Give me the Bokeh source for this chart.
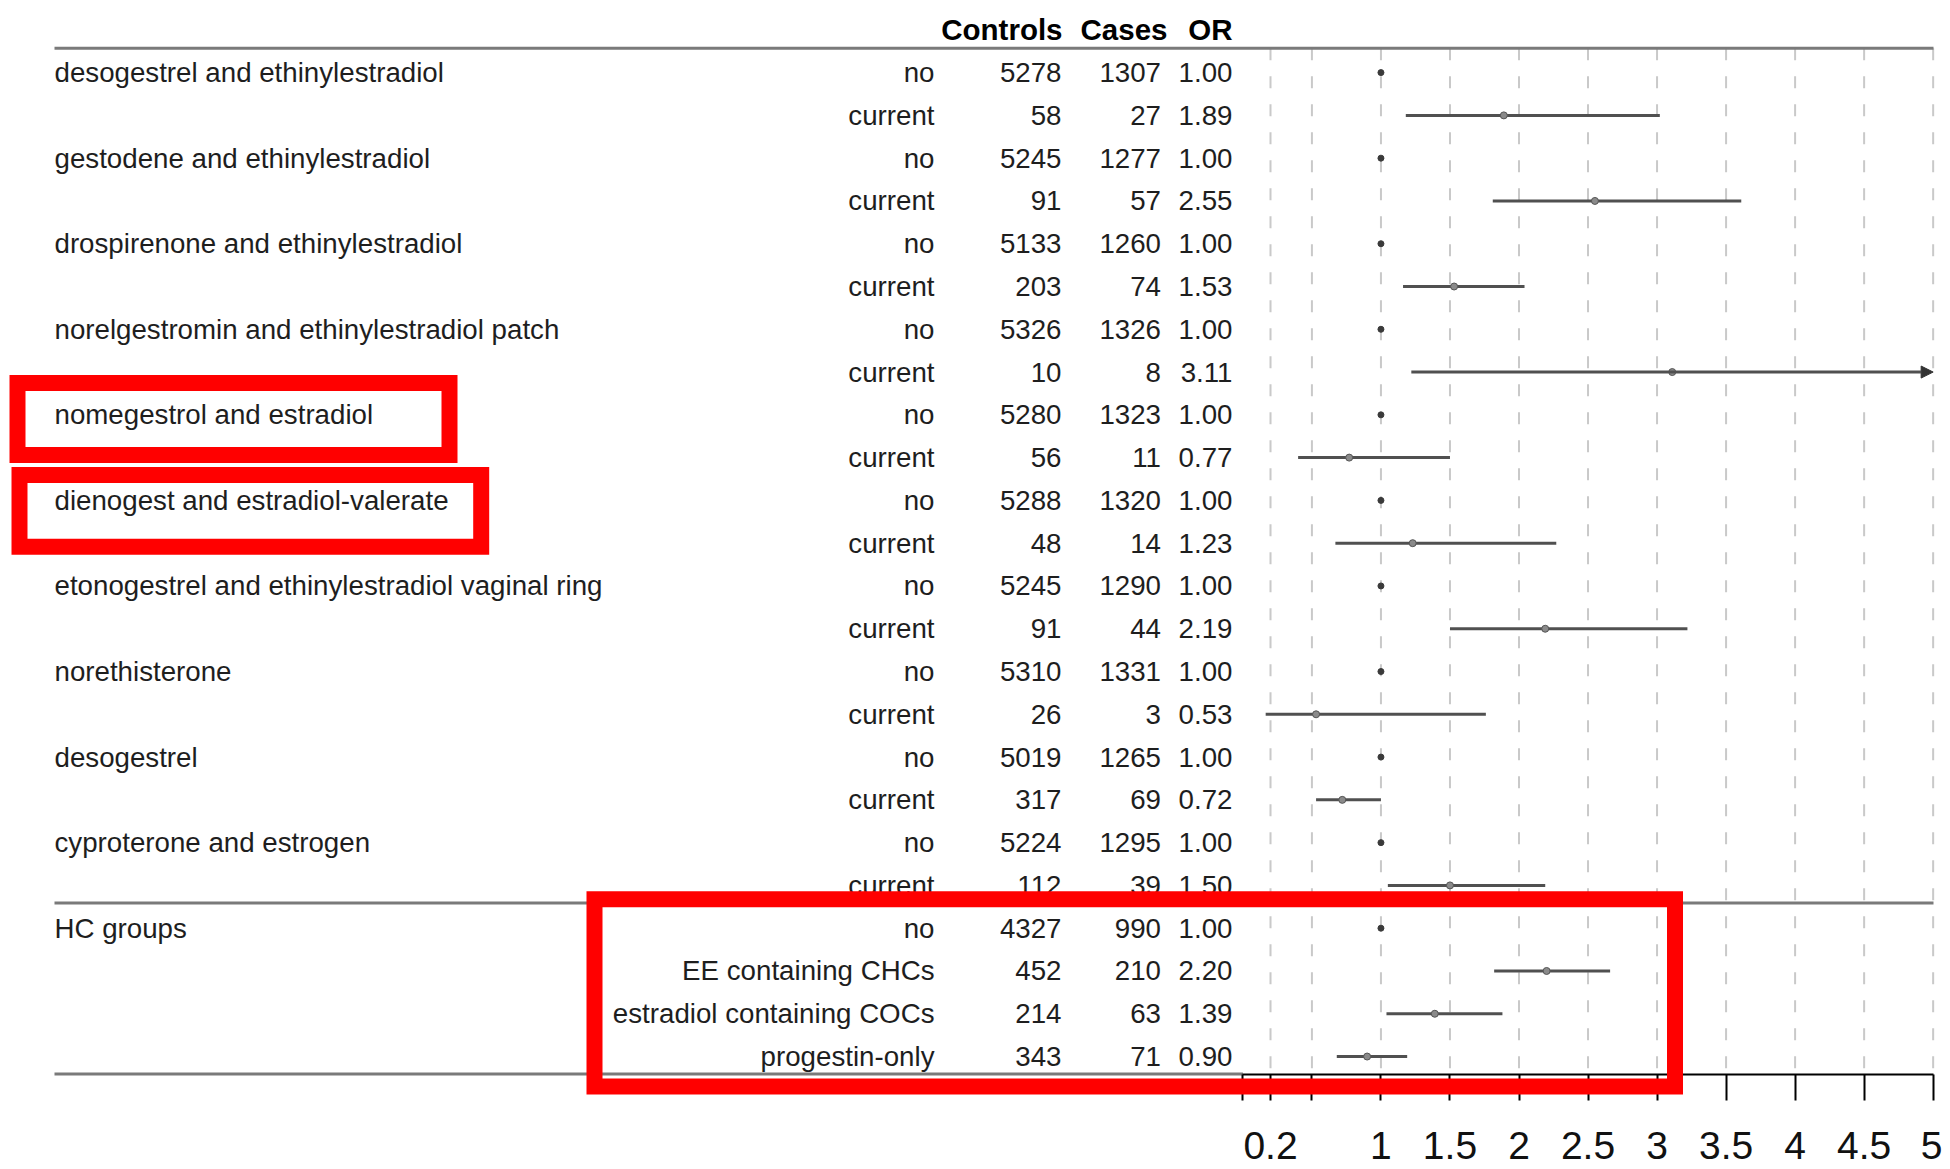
from bokeh.plotting import figure
from bokeh.models import (Range1d, LinearAxis, FixedTicker, ColumnDataSource,
                          BoxAnnotation, Arrow, NormalHead)
from bokeh.core.properties import value
from bokeh.embed import file_html
from bokeh.resources import INLINE

# ---------------- data ----------------
drug_names = [
    "desogestrel and ethinylestradiol",
    "gestodene and ethinylestradiol",
    "drospirenone and ethinylestradiol",
    "norelgestromin and ethinylestradiol patch",
    "nomegestrol and estradiol",
    "dienogest and estradiol-valerate",
    "etonogestrel and ethinylestradiol vaginal ring",
    "norethisterone",
    "desogestrel",
    "cyproterone and estrogen",
]
group_title = "HC groups"
column_headers = ["Controls", "Cases", "OR"]

exposure_levels = ["no", "current"] * 10 + [
    "no", "EE containing CHCs", "estradiol containing COCs", "progestin-only"]
controls = [5278, 58, 5245, 91, 5133, 203, 5326, 10, 5280, 56, 5288, 48,
            5245, 91, 5310, 26, 5019, 317, 5224, 112, 4327, 452, 214, 343]
cases = [1307, 27, 1277, 57, 1260, 74, 1326, 8, 1323, 11, 1320, 14,
         1290, 44, 1331, 3, 1265, 69, 1295, 39, 990, 210, 63, 71]
odds_ratio = [1.00, 1.89, 1.00, 2.55, 1.00, 1.53, 1.00, 3.11, 1.00, 0.77, 1.00, 1.23,
              1.00, 2.19, 1.00, 0.53, 1.00, 0.72, 1.00, 1.50, 1.00, 2.20, 1.39, 0.90]
ci_lower = [None, 1.18, None, 1.81, None, 1.16, None, 1.22, None, 0.40, None, 0.67,
            None, 1.50, None, 0.165, None, 0.53, None, 1.05, None, 1.82, 1.04, 0.68]
ci_upper = [None, 3.02, None, 3.61, None, 2.04, None, 5.0, None, 1.50, None, 2.27,
            None, 3.22, None, 1.76, None, 1.00, None, 2.19, None, 2.66, 1.88, 1.19]
ci_beyond_axis = [False] * 24
ci_beyond_axis[7] = True   # upper limit runs past the axis (drawn as arrow)

axis_ticks = [0, 0.2, 0.5, 1, 1.5, 2, 2.5, 3, 3.5, 4, 4.5, 5]
unlabeled_ticks = [0, 0.5]

# ---------------- layout constants (page pixels) ----------------
W, H = 1942, 1169
ROW0_Y, ROW_STEP = 72.1, 42.78
OR0_X, OR_STEP = 1242.4, 138.05
NAME_X = 54
LEVEL_R, CONTROLS_R, CASES_R, OR_R = 934, 1061, 1160.5, 1232
HEAD_R = [1062, 1167, 1232]
RULE_L, RULE_R = 54, 1933
RULE_TOP, RULE_MID, RULE_BOT = 47.7, 902.5, 1073.5

FONT = value("Liberation Sans")
BODY = value("27.7px")
TXT = "#1e1e1e"
RULE_COLOR = "#7a7a7a"

p = figure(width=W, height=H,
           x_range=Range1d(0, W), y_range=Range1d(H, 0),
           output_backend="svg", toolbar_location=None,
           x_axis_location=None, y_axis_location=None,
           min_border_left=0, min_border_right=0, min_border_top=0, min_border_bottom=0,
           outline_line_color=None, background_fill_color="white")
p.xgrid.visible = False
p.ygrid.visible = False
p.extra_x_ranges = {"or": Range1d((0 - OR0_X) / OR_STEP, (W - OR0_X) / OR_STEP)}
p.extra_y_ranges = {"rows": Range1d((H - ROW0_Y) / ROW_STEP, (0 - ROW0_Y) / ROW_STEP)}

rows = list(range(len(exposure_levels)))

# vertical dashed grid lines
grid_vals = [t for t in axis_ticks if t > 0]
p.segment(x0=grid_vals, x1=grid_vals, y0=RULE_TOP, y1=RULE_BOT,
          x_range_name="or", line_color="#c9c9c9", line_width=2, line_dash="12 16")

# horizontal rules
p.segment(x0=RULE_L, x1=RULE_R, y0=[RULE_TOP, RULE_MID], y1=[RULE_TOP, RULE_MID],
          line_color=RULE_COLOR, line_width=3)
p.segment(x0=RULE_L, x1=OR0_X, y0=RULE_BOT, y1=RULE_BOT,
          line_color=RULE_COLOR, line_width=3)

# header
p.text(x=HEAD_R, y=-1, text=column_headers, y_range_name="rows",
       text_align="right", text_baseline="middle", text_font=FONT,
       text_font_size=value("29.5px"), text_font_style="bold", text_color="#000000")

# names
name_rows = [2 * i for i in range(len(drug_names))] + [2 * len(drug_names)]
names = drug_names + [group_title]
p.text(x=NAME_X, y=name_rows, text=names, y_range_name="rows",
       text_align="left", text_baseline="middle", text_font=FONT,
       text_font_size=BODY, text_color=TXT)

# table columns
for xr, col in [(LEVEL_R, exposure_levels),
                (CONTROLS_R, [str(v) for v in controls]),
                (CASES_R, [str(v) for v in cases]),
                (OR_R, [f"{v:.2f}" for v in odds_ratio])]:
    p.text(x=xr, y=rows, text=col, y_range_name="rows",
           text_align="right", text_baseline="middle", text_font=FONT,
           text_font_size=BODY, text_color=TXT)

# confidence intervals
ci_rows = [r for r in rows if ci_lower[r] is not None and not ci_beyond_axis[r]]
ci_src = ColumnDataSource(dict(
    y=ci_rows, lo=[ci_lower[r] for r in ci_rows], hi=[ci_upper[r] for r in ci_rows]))
p.segment(x0="lo", x1="hi", y0="y", y1="y", source=ci_src,
          x_range_name="or", y_range_name="rows", line_color="#505050", line_width=3)
for r in rows:
    if ci_beyond_axis[r]:
        p.add_layout(Arrow(x_start=ci_lower[r], y_start=r, x_end=axis_ticks[-1], y_end=r,
                           x_range_name="or", y_range_name="rows",
                           line_color="#505050", line_width=3,
                           end=NormalHead(size=12, fill_color="#333333",
                                          line_color="#333333", line_width=1)))

# point estimates
ref_rows = [r for r in rows if ci_lower[r] is None]
est_rows = [r for r in rows if ci_lower[r] is not None]
p.scatter(x=[odds_ratio[r] for r in ref_rows], y=ref_rows, size=6,
          x_range_name="or", y_range_name="rows", color="#3a3a3a")
p.scatter(x=[odds_ratio[r] for r in est_rows], y=est_rows, size=7,
          x_range_name="or", y_range_name="rows",
          fill_color="#8a8a8a", line_color="#555555", line_width=1)

# OR axis, drawn at the bottom rule
ax = LinearAxis(x_range_name="or", ticker=FixedTicker(ticks=axis_ticks), bounds=(0, 5),
                major_label_overrides={t: "" for t in unlabeled_ticks},
                fixed_location=RULE_BOT)
ax.axis_line_color = "#000000"
ax.axis_line_width = 2
ax.major_tick_line_color = "#000000"
ax.major_tick_line_width = 2
ax.major_tick_out = 26
ax.major_tick_in = 0
ax.minor_tick_line_color = None
ax.major_label_standoff = 32
ax.major_label_text_font = "Liberation Sans"
ax.major_label_text_font_size = "39px"
ax.major_label_text_color = "#111111"
p.add_layout(ax, "below")

# red highlight boxes
for (l, r_, t, b) in [(17, 449, 382.5, 454.5), (19, 480.7, 474.5, 546.3), (594, 1674.5, 898.7, 1086)]:
    p.add_layout(BoxAnnotation(left=l, right=r_, top=t, bottom=b,
                               fill_alpha=0, line_alpha=1, line_join="miter",
                               line_color="#ff0000", line_width=16))

open("out.html", "w").write(file_html(p, INLINE))
